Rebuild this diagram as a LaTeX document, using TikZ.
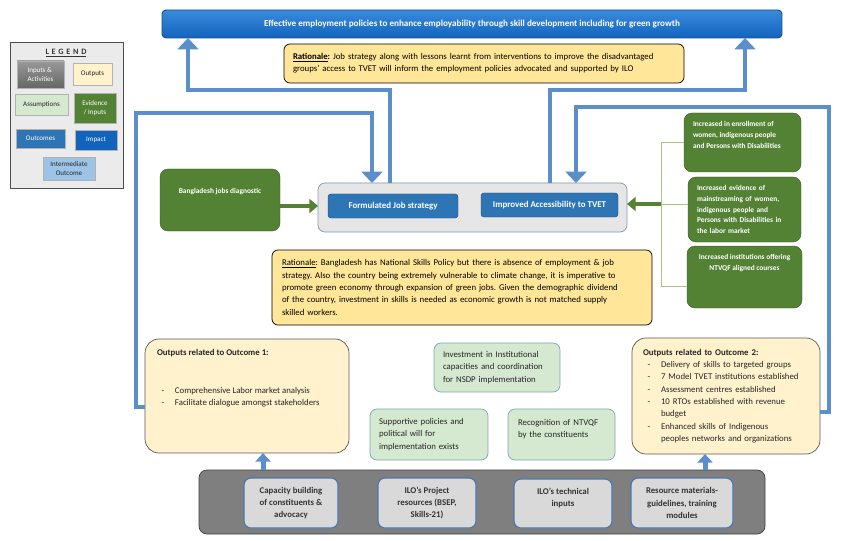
\documentclass[tikz,border=0pt]{standalone}
\usepackage{fontspec}
\setmainfont{Carlito}
\usetikzlibrary{arrows.meta}
\frenchspacing

\definecolor{impactblue}{HTML}{1263BD}
\definecolor{impacttop}{HTML}{3A8BDC}
\definecolor{impactedge}{HTML}{1B4F8F}
\definecolor{outcomeblue}{HTML}{2E75B6}
\definecolor{outcomeedge}{HTML}{1F4E79}
\definecolor{rationalefill}{HTML}{FFE699}
\definecolor{outputfill}{HTML}{FFF2CC}
\definecolor{outputedge}{HTML}{595959}
\definecolor{assumefill}{HTML}{D5E8D0}
\definecolor{assumeedge}{HTML}{7FA6B8}
\definecolor{evidgreen}{HTML}{548235}
\definecolor{evidedge}{HTML}{3B5E22}
\definecolor{bracketgreen}{HTML}{A9C47F}
\definecolor{flowblue}{HTML}{5B8FCB}
\definecolor{inputgray}{HTML}{7F7F7F}
\definecolor{inputedge}{HTML}{404040}
\definecolor{inputbox}{HTML}{D9D9D9}
\definecolor{inputboxedge}{HTML}{4A78B0}
\definecolor{holdergray}{HTML}{E7E6E6}
\definecolor{holderedge}{HTML}{8497B0}
\definecolor{legendfill}{HTML}{EBEBEB}
\definecolor{intermblue}{HTML}{9DC3E6}

% one pixel of the layout
\def\pxu{0.03cm}
\newcommand\outitem[1]{\hspace*{0.14cm}\makebox[0.40cm][l]{-}#1}

\begin{document}
\begin{tikzpicture}[x=0.03cm, y=-0.03cm,
  sized/.style 2 args={minimum width=#1*\pxu, minimum height=#2*\pxu},
  base/.style={inner sep=0pt, outer sep=0pt, font=\fontsize{7.5}{10.5}\selectfont},
  impact/.style={base, draw=impactedge, line width=0.8pt, top color=impacttop, bottom color=impactblue, rounded corners=0.12cm, text=white, font=\bfseries\fontsize{7.8}{9}\selectfont},
  rationale/.style={base, draw=black, line width=0.6pt, fill=rationalefill, rounded corners=0.18cm, align=left},
  outcome/.style={base, draw=outcomeedge, fill=outcomeblue, rounded corners=0.09cm, text=white, font=\bfseries\fontsize{7.6}{9}\selectfont},
  holder/.style={base, draw=holderedge, line width=0.6pt, fill=holdergray, rounded corners=0.21cm},
  evidence/.style={base, draw=evidedge, fill=evidgreen, rounded corners=0.24cm, text=white, font=\bfseries\fontsize{6.3}{9}\selectfont},
  evidtext/.style={base, text=white, font=\bfseries\fontsize{6.3}{9.6}\selectfont},
  output/.style={base, draw=outputedge, line width=0.6pt, fill=outputfill, rounded corners=0.42cm, text=black!85},
  outtext/.style={base, align=left, text=black!85},
  assume/.style={base, draw=assumeedge, line width=0.6pt, fill=assumefill, rounded corners=0.21cm, align=left, text=black!85},
  inputs/.style={base, draw=inputedge, line width=0.6pt, fill=inputgray, rounded corners=0.24cm},
  inputbox/.style={base, draw=inputboxedge, line width=1pt, fill=inputbox, rounded corners=0.21cm, align=center, text=black!80, font=\bfseries\fontsize{7.5}{10.5}\selectfont},
  legendbox/.style={base, draw=black!70, line width=0.6pt, fill=legendfill},
  legitem/.style={base, draw=black!30, align=left, font=\fontsize{6}{7.5}\selectfont},
  flow/.style={draw=flowblue, line width=0.12cm, -{Triangle[width=0.62cm, length=0.34cm]}},
  flowup/.style={draw=flowblue, line width=0.15cm, -{Triangle[width=0.45cm, length=0.26cm]}},
  evarrow/.style={draw=evidgreen, line width=0.14cm, -{Triangle[width=0.42cm, length=0.26cm]}},
  bracket/.style={draw=bracketgreen, line width=0.8pt}]

\useasboundingbox (0,0) rectangle (850,541);
\fill[white] (0,0) rectangle (850,541);

% impact and its rationale
\node[impact, sized={620}{28}] (impact) at (472,24) {Effective employment policies to enhance employability through skill development including for green growth};
\node[rationale, sized={400}{39}, text width=382*\pxu] (rat1) at (484,63.5) {\textbf{\underline{Rationale}:} Job strategy along with lessons learnt from interventions to improve the disadvantaged\\groups’ access to TVET will inform the employment policies advocated and supported by ILO};

% legend
\node[legendbox, sized={113}{146}] (legend) at (66.5,115) {};
\node[base, font=\bfseries\fontsize{7}{8}\selectfont, text=black!80] (legendtitle) at (66,53) {\underline{L\,\,E\,\,G\,\,E\,\,N\,\,D}};
\node[legitem, sized={47}{27}, top color=black!40, bottom color=black!60, text=white] (leginput) at (40.5,74.5) {Inputs \&\\Activities};
\node[legitem, sized={39}{22}, fill=outputfill, text=black!85, align=center] (legoutput) at (92.5,74) {Outputs};
\node[legitem, sized={53}{21}, fill=assumefill, text=black!85, align=center] (legassume) at (41.5,104.5) {Assumptions};
\node[legitem, sized={42}{30}, fill=evidgreen, text=white, align=center] (legevid) at (95,108) {Evidence\\/ Inputs};
\node[legitem, sized={49}{19}, fill=outcomeblue, text=white, align=center] (legoutcome) at (40.5,138.5) {Outcomes};
\node[legitem, sized={42}{20}, fill=impactblue, text=white, align=center] (legimpact) at (96,140) {Impact};
\node[legitem, sized={52}{23}, fill=intermblue, text=black!85, align=center] (leginterm) at (69,168.5) {Intermediate\\Outcome};

% intermediate outcomes
\node[holder, sized={309}{49}] (holder) at (472.5,207.5) {};
\node[outcome, sized={130}{24}] (jobstrat) at (393,206) {Formulated Job strategy};
\node[outcome, sized={137}{24}] (tvet) at (549.5,205) {Improved Accessibility to TVET};

% evidence
\node[evidence, sized={120}{62}] (diag) at (220,200) {};
\node[evidtext, anchor=north] (diagtext) at ([shift={(0,19)}]diag.north) {Bangladesh jobs diagnostic};
\node[evidence, sized={117}{59}] (enrol) at (742.5,142.5) {};
\node[evidtext, anchor=north west, align=left] (enroltext) at ([shift={(9,8)}]enrol.north west) {Increased in enrollment of\\women, indigenous people\\and Persons with Disabilities};
\node[evidence, sized={113}{65}, align=left, text width=95*\pxu] (mainstream) at (744.5,209.5) {Increased evidence of\\mainstreaming of women,\\indigenous people and\\Persons with Disabilities in\\the labor market};
\node[evidence, sized={115}{62}] (ntvqf) at (744.5,277) {};
\node[evidtext, anchor=north, align=center] (ntvqftext) at ([shift={(0,8)}]ntvqf.north) {Increased institutions offering\\NTVQF aligned courses};

% rationale for the outcomes
\node[rationale, sized={380}{75}, text width=360*\pxu] (rat2) at (462,287.5) {\underline{Rationale}: Bangladesh has National Skills Policy but there is absence of employment \& job\\strategy. Also the country being extremely vulnerable to climate change, it is imperative to\\promote green economy through expansion of green jobs. Given the demographic dividend\\of the country, investment in skills is needed as economic growth is not matched supply\\skilled workers.};

% outputs
\node[output, sized={204}{114}] (out1) at (247,396) {};
\node[outtext, anchor=north west] (out1text) at ([shift={(12,10)}]out1.north west) {\textbf{Outputs related to Outcome 1:}\\[22pt]\outitem{Comprehensive Labor market analysis}\\\outitem{Facilitate dialogue amongst stakeholders}};
\node[output, sized={188}{116}, align=left, text width=166*\pxu] (out2) at (726,396) {\textbf{Outputs related to Outcome 2:}\\\outitem{Delivery of skills to targeted groups}\\\outitem{7 Model TVET institutions established}\\\outitem{Assessment centres established}\\\outitem{10 RTOs established with revenue}\\\hspace*{0.54cm}budget\\\outitem{Enhanced skills of Indigenous}\\\hspace*{0.54cm}peoples networks and organizations};

% assumptions
\node[assume, sized={126}{49}, text width=108*\pxu] (invest) at (497,367.5) {Investment in Institutional\\capacities and coordination\\for NSDP implementation};
\node[assume, sized={118}{51}, text width=100*\pxu] (support) at (429,434.5) {Supportive policies and\\political will for\\implementation exists};
\node[assume, sized={107}{51}, text width=87*\pxu] (recog) at (561.5,434.5) {Recognition of NTVQF\\by the constituents\\\mbox{}};

% inputs and activities
\node[inputs, sized={566}{64}] (inputs) at (482,502) {};
\node[inputbox, sized={94}{50}] (capacity) at (291,503) {Capacity building\\of constituents \&\\advocacy};
\node[inputbox, sized={98}{50}] (project) at (427,503) {ILO’s Project\\resources (BSEP,\\Skills-21)};
\node[inputbox, sized={98}{49}] (technical) at (563,503.5) {ILO’s technical\\inputs\\\mbox{}};
\node[inputbox, sized={102}{50}] (materials) at (682,503) {Resource materials-\\guidelines, training\\modules};

% turning points of the connectors
\coordinate (up1) at (263,0);
\coordinate (up2) at (705,0);
\coordinate (leftturn) at (390,90);
\coordinate (leftup) at (188,90);
\coordinate (rightturn) at (550,90);
\coordinate (rightup) at (745,90);
\coordinate (o1corner) at (136,407);
\coordinate (o1top) at (136,113);
\coordinate (o1drop) at (372,113);
\coordinate (o2corner) at (829,412);
\coordinate (o2top) at (829,107);
\coordinate (o2drop) at (576,107);
\coordinate (diagout) at (280,206);
\coordinate (brtop) at (661,142);
\coordinate (brmid) at (661,204);
\coordinate (brbot) at (661,286);

% green evidence links
\draw[bracket] (enrol.west |- brtop) -- (brtop) -- (brbot) -- (ntvqf.west |- brbot);
\draw[bracket] (brmid) -- (mainstream.west |- brmid);
\draw[evarrow] (brmid) -- (holder.east |- brmid);
\draw[evarrow] (diag.east |- diagout) -- (holder.west |- diagout);

% blue flows
\draw[flowup] (inputs.north -| up1) -- (out1.south -| up1);
\draw[flowup] (inputs.north -| up2) -- (out2.south -| up2);
\draw[flow] (out1.west |- o1corner) -- (o1corner) -- (o1top) -- (o1drop) -- (holder.north -| o1drop);
\draw[flow] (out2.east |- o2corner) -- (o2corner) -- (o2top) -- (o2drop) -- (holder.north -| o2drop);
\draw[flow] (holder.north -| leftturn) -- (leftturn) -- (leftup) -- (impact.south -| leftup);
\draw[flow] (holder.north -| rightturn) -- (rightturn) -- (rightup) -- (impact.south -| rightup);
\end{tikzpicture}
\end{document}
